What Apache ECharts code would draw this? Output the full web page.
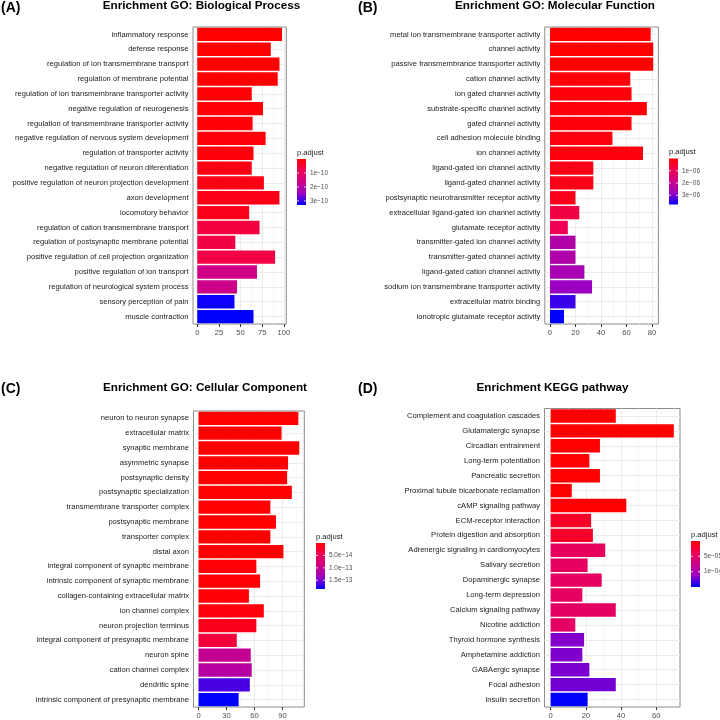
<!DOCTYPE html>
<html><head><meta charset="utf-8">
<script src="https://cdn.jsdelivr.net/npm/echarts@6/dist/echarts.min.js"></script>
<style>html,body{margin:0;padding:0;background:#fff}#c{width:720px;height:720px}</style>
</head><body><div id="c"></div>
<script>
// ---------- DATA ----------
const bpTerms = ['inflammatory response','defense response','regulation of ion transmembrane transport','regulation of membrane potential','regulation of ion transmembrane transporter activity','negative regulation of neurogenesis','regulation of transmembrane transporter activity','negative regulation of nervous system development','regulation of transporter activity','negative regulation of neuron diferentiation','positive regulation of neuron projection development','axon development','locomotory behavior','regulation of cation transmembrane transport','regulation of postsynaptic membrane potential','positive regulation of cell projection organization','positive regulation of ion transport','regulation of neurological system process','sensory perception of pain','muscle contraction'];
const bpCounts = [98,85,95,93,63,76,64,79,65,63,77,95,60,72,44,90,69,46,43,65];
const bpPadj = [1e-13,2e-13,3e-13,5e-13,4e-12,5e-12,6e-12,7e-12,8e-12,2.0e-11,2.1e-11,2.3e-11,2.6e-11,6.4e-11,6.6e-11,6.9e-11,1.62e-10,1.65e-10,3.22e-10,3.29e-10];
const bpTicks = [0,25,50,75,100];
const bpMinor = [12.5,37.5,62.5,87.5];
const bpLegTicks = [1e-10,2e-10,3e-10];
const bpLegLabels = ['1e\u221210','2e\u221210','3e\u221210'];

const mfTerms = ['metal ion transmembrane transporter activity','channel activity','passive transmembrance transporter activity','cation channel activity','ion gated channel activity','substrate-specific channel activity','gated channel activity','cell adhesion molecule binding','ion channel activity','ligand-gated ion channel activity','ligand-gated channel activity','postsynaptic neurotransmitter receptor activity','extracellular ligand-gated ion channel activity','glutamate receptor activity','transmitter-gated ion channel activity','transmitter-gated channel activity','ligand-gated cation channel activity','sodium ion transmembrane transporter activity','extracellular matrix binding','ionotropic glutamate receptor activity'];
const mfCounts = [79,81,81,63,64,76,64,49,73,34,34,20,23,14,20,20,27,33,20,11];
const mfPadj = [1e-9,2e-9,3e-9,8e-8,9e-8,1.0e-7,1.1e-7,1.6e-7,1.8e-7,2.6e-7,2.7e-7,3.0e-7,7.5e-7,9.4e-7,2.36e-6,2.40e-6,2.55e-6,2.8e-6,3.4e-6,3.75e-6];
const mfTicks = [0,20,40,60,80];
const mfMinor = [10,30,50,70];
const mfLegTicks = [1e-6,2e-6,3e-6];
const mfLegLabels = ['1e\u221206','2e\u221206','3e\u221206'];

const ccTerms = ['neuron to neuron synapse','extracellular matrix','synaptic membrane','asymmetric synapse','postsynaptic density','postsynaptic specialization','transmembrane transporter complex','postsynaptic membrane','transporter complex','distal axon','integral component of synaptic membrane','intrinsic component of synaptic membrane','collagen-containing extracellular matrix','ion channel complex','neuron projection terminus','integral component of presynaptic membrane','neuron spine','cation channel complex','dendritic spine','intrinsic component of presynaptic membrane'];
const ccCounts = [107,89,108,96,95,100,77,83,77,91,62,66,54,70,62,41,56,57,55,43];
const ccPadj = [1e-17,2e-17,3e-17,5e-17,8e-17,1e-16,2e-16,3e-16,5e-16,1e-15,1.5e-15,2e-15,3e-15,6e-15,1.3e-14,3.3e-14,1.0e-13,1.12e-13,1.63e-13,1.85e-13];
const ccTicks = [0,30,60,90];
const ccMinor = [15,45,75,105];
const ccLegTicks = [5e-14,1e-13,1.5e-13];
const ccLegLabels = ['5.0e\u221214','1.0e\u221213','1.5e\u221213'];

const kgTerms = ['Complement and coagulation cascades','Glutamatergic synapse','Circadian entrainment','Long-term potentiation','Pancreatic secretion','Proximal tubule bicarbonate reclamation','cAMP signaling pathway','ECM-receptor interaction','Protein digestion and absorption','Adrenergic signaling in cardiomyocytes','Salivary secretion','Dopaminergic synapse','Long-term depression','Calcium signaling pathway','Nicotine addiction','Thyroid hormone synthesis','Amphetamine addiction','GABAergic synapse','Focal adhesion','Insulin secretion'];
const kgCounts = [37,70,28,22,28,12,43,23,24,31,21,29,18,37,14,19,18,22,37,21];
const kgPadj = [1e-8,2e-8,5e-8,1e-7,2e-7,3e-7,1e-6,1.8e-5,1.9e-5,4.4e-5,4.5e-5,4.6e-5,4.7e-5,4.8e-5,4.9e-5,1.18e-4,1.19e-4,1.2e-4,1.22e-4,1.5e-4];
const kgTicks = [0,20,40,60];
const kgMinor = [10,30,50,70];
const kgLegTicks = [5e-5,1e-4];
const kgLegLabels = ['5e\u221205','1e\u221204'];

// ---------- LAYOUT ----------
const FONT = '"Liberation Sans", Arial, Helvetica, sans-serif';
const STOPS = ['#FF0000','#EE0054','#CC0089','#9A00C3','#0000FF'];
const panels = [
  {terms:bpTerms, counts:bpCounts, padj:bpPadj, ticks:bpTicks, minor:bpMinor, lt:bpLegTicks, ll:bpLegLabels,
   title:'Enrichment GO: Biological Process', tag:'(A)', tagX:1, tagY:8, titleX:201.5, titleY:5.5,
   grid:{left:193, top:27, width:93.3, height:297}, leg:{x:297, y:159, ty:153}},
  {terms:mfTerms, counts:mfCounts, padj:mfPadj, ticks:mfTicks, minor:mfMinor, lt:mfLegTicks, ll:mfLegLabels,
   title:'Enrichment GO: Molecular Function', tag:'(B)', tagX:358, tagY:8, titleX:555, titleY:5.5,
   grid:{left:544.8, top:27, width:113.6, height:297}, leg:{x:669, y:158.5, ty:152}},
  {terms:ccTerms, counts:ccCounts, padj:ccPadj, ticks:ccTicks, minor:ccMinor, lt:ccLegTicks, ll:ccLegLabels,
   title:'Enrichment GO: Cellular Component', tag:'(C)', tagX:1, tagY:389, titleX:205, titleY:387.5,
   grid:{left:193.5, top:411, width:110.8, height:299}, leg:{x:316, y:543, ty:536.5}},
  {terms:kgTerms, counts:kgCounts, padj:kgPadj, ticks:kgTicks, minor:kgMinor, lt:kgLegTicks, ll:kgLegLabels,
   title:'Enrichment KEGG pathway', tag:'(D)', tagX:358, tagY:389, titleX:552.5, titleY:387.5,
   grid:{left:544.5, top:408.5, width:135.5, height:299.5}, leg:{x:691, y:541, ty:534.5}}
];
const LEG_W = 9, LEG_H = 46;

const option = {animation:false, backgroundColor:'#fff', grid:[], xAxis:[], yAxis:[], series:[], visualMap:[], graphic:[]};

panels.forEach((p,i)=>{
  const maxC = Math.max(...p.counts);
  const pmin = Math.min(...p.padj), pmax = Math.max(...p.padj);
  option.grid.push({left:p.grid.left, top:p.grid.top, width:p.grid.width, height:p.grid.height,
    show:true, borderColor:'#8a8a8a', borderWidth:1, backgroundColor:'#fff', containLabel:false});
  option.xAxis.push({type:'value', gridIndex:i, min:-0.05*maxC, max:1.05*maxC,
    axisLine:{show:false}, splitLine:{show:false},
    axisTick:{show:true, customValues:p.ticks, length:3, lineStyle:{color:'#333', width:1}},
    axisLabel:{customValues:p.ticks, fontSize:7.6, color:'#4d4d4d', margin:5, fontFamily:FONT}});
  option.yAxis.push({type:'category', gridIndex:i, data:p.terms, inverse:true,
    axisLine:{show:false}, splitLine:{show:false},
    axisTick:{show:true, alignWithLabel:true, length:3, lineStyle:{color:'#333', width:1}},
    axisLabel:{fontSize:7.6, color:'#1a1a1a', margin:4.5, fontFamily:FONT, interval:0}});
  const ml = [];
  p.ticks.forEach(v=>ml.push({xAxis:v, lineStyle:{color:'#EBEBEB', width:1, type:'solid'}}));
  p.minor.forEach(v=>ml.push({xAxis:v, lineStyle:{color:'#F4F4F4', width:0.7, type:'solid'}}));
  p.terms.forEach(t=>ml.push({yAxis:t, lineStyle:{color:'#EBEBEB', width:1, type:'solid'}}));
  option.series.push({type:'line', xAxisIndex:i, yAxisIndex:i, data:[], silent:true, z:1,
    markLine:{silent:true, z:1, symbol:['none','none'], label:{show:false}, animation:false, data:ml}});
  option.series.push({type:'bar', xAxisIndex:i, yAxisIndex:i, z:2, barCategoryGap:'10%', silent:true,
    data:p.terms.map((t,j)=>[p.counts[j], t, p.padj[j]]), encode:{x:0, y:1}});
  option.visualMap.push({type:'continuous', show:false, seriesIndex:2*i+1, dimension:2, min:pmin, max:pmax,
    inRange:{color:STOPS}});
  // colour bar (ggplot-style)
  option.graphic.push({type:'rect', z:99, shape:{x:p.leg.x, y:p.leg.y, width:LEG_W, height:LEG_H},
    style:{fill:{type:'linear', x:0, y:0, x2:0, y2:1,
      colorStops:STOPS.map((c,k)=>({offset:k/(STOPS.length-1), color:c}))}}});
  option.graphic.push({type:'text', x:p.leg.x, y:p.leg.ty, z:100,
    style:{text:'p.adjust', fill:'#1a1a1a', font:'7.6px '+FONT, verticalAlign:'middle', align:'left'}});
  p.lt.forEach((v,k)=>{
    const y = p.leg.y + (v-pmin)/(pmax-pmin)*LEG_H;
    option.graphic.push({type:'text', x:p.leg.x+LEG_W+4, y:y, z:100,
      style:{text:p.ll[k], fill:'#4d4d4d', font:'6.4px '+FONT, verticalAlign:'middle', align:'left'}});
    option.graphic.push({type:'line', z:100, shape:{x1:p.leg.x, y1:y, x2:p.leg.x+2, y2:y}, style:{stroke:'#fff', lineWidth:0.8}});
    option.graphic.push({type:'line', z:100, shape:{x1:p.leg.x+LEG_W-2, y1:y, x2:p.leg.x+LEG_W, y2:y}, style:{stroke:'#fff', lineWidth:0.8}});
  });
  option.graphic.push({type:'text', x:p.titleX, y:p.titleY, z:100,
    style:{text:p.title, fill:'#000', font:'bold 11.7px '+FONT, align:'center', verticalAlign:'middle'}});
  option.graphic.push({type:'text', x:p.tagX, y:p.tagY, z:100,
    style:{text:p.tag, fill:'#000', font:'bold 14px '+FONT, align:'left', verticalAlign:'middle'}});
});

const chart = echarts.init(document.getElementById('c'), null, {renderer:'canvas'});
chart.setOption(option);
</script></body></html>
